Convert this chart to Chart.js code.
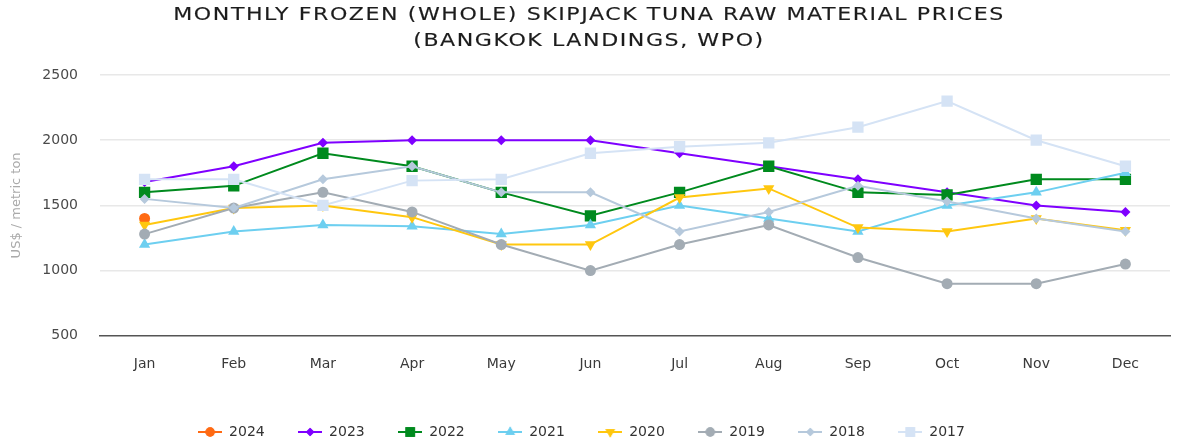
<!DOCTYPE html>
<html>
<head>
<meta charset="utf-8">
<script src="https://cdn.jsdelivr.net/npm/chart.js@4.4.1/dist/chart.umd.min.js"></script>
<style>
  html, body { margin: 0; padding: 0; background: #fff; }
  #wrap { width: 1178px; height: 444px; position: relative; }
  #titulo {
    position: absolute; left: 0; top: 1px; width: 1178px;
    text-align: center; font-family: 'DejaVu Sans', sans-serif;
    font-size: 17px; line-height: 26px; color: #1c1c1c;
    letter-spacing: 1.2px; -webkit-text-stroke: 0.15px #1c1c1c;
    transform: scaleX(1.3); transform-origin: 589px 0;
    pointer-events: none;
  }
</style>
</head>
<body>
<div id="wrap">
  <canvas id="graficoAtum"></canvas>
  <div id="titulo">MONTHLY FROZEN (WHOLE) SKIPJACK TUNA RAW MATERIAL PRICES<br>(BANGKOK LANDINGS, WPO)</div>
</div>
<script>
// dados (US$ / tonelada)
var meses = ['Jan', 'Feb', 'Mar', 'Apr', 'May', 'Jun', 'Jul', 'Aug', 'Sep', 'Oct', 'Nov', 'Dec'];
var anos = ['2024', '2023', '2022', '2021', '2020', '2019', '2018', '2017'];
var ticksY = [500, 1000, 1500, 2000, 2500];

var v2024 = [1400, null, null, null, null, null, null, null, null, null, null, null];
var v2023 = [1680, 1800, 1980, 2000, 2000, 2000, 1900, 1800, 1700, 1600, 1500, 1450];
var v2022 = [1600, 1650, 1900, 1800, 1600, 1420, 1600, 1800, 1600, 1580, 1700, 1700];
var v2021 = [1200, 1300, 1350, 1340, 1280, 1350, 1500, 1400, 1300, 1500, 1600, 1750];
var v2020 = [1350, 1480, 1500, 1410, 1200, 1200, 1560, 1630, 1330, 1300, 1400, 1310];
var v2019 = [1280, 1480, 1600, 1450, 1200, 1000, 1200, 1350, 1100, 900, 900, 1050];
var v2018 = [1550, 1480, 1700, 1800, 1600, 1600, 1300, 1450, 1650, 1530, 1400, 1300];
var v2017 = [1700, 1700, 1500, 1690, 1700, 1900, 1950, 1980, 2100, 2300, 2000, 1800];

var valores = [v2024, v2023, v2022, v2021, v2020, v2019, v2018, v2017];
var cores = ['#ff6a13', '#7f00ff', '#008a1e', '#6dcff0', '#ffc70f', '#a3acb4', '#b6c9dc', '#d5e3f5'];
var estilos = ['circle', 'rectRot', 'rect', 'triangle', 'triangle', 'circle', 'rectRot', 'rect'];
var rotacoes = [0, 0, 0, 0, 180, 0, 0, 0];
var raios = [5.5, 5, 8, 6.5, 6.5, 5.5, 5, 8];

// ícone da legenda: linha curta com o marcador
function criarIcone(i) {
    var c = document.createElement('canvas');
    c.width = 24; c.height = 14;
    var g = c.getContext('2d');
    g.strokeStyle = cores[i];
    g.lineWidth = 2;
    g.beginPath(); g.moveTo(0, 7); g.lineTo(24, 7); g.stroke();
    g.fillStyle = cores[i];
    Chart.helpers.drawPoint(g, {
        pointStyle: estilos[i], radius: raios[i] * 0.85, rotation: rotacoes[i], borderWidth: 0
    }, 12, 7);
    g.fill();
    return c;
}

var datasets = anos.map(function (ano, i) {
    return {
        label: ano,
        data: valores[i],
        borderColor: cores[i],
        backgroundColor: cores[i],
        borderWidth: 2,
        pointStyle: estilos[i],
        pointRotation: rotacoes[i],
        pointRadius: raios[i],
        pointHoverRadius: raios[i],
        pointBorderWidth: 0,
        tension: 0,
        order: anos.length - i
    };
});

// empurra a legenda um pouco para a esquerda
var ajusteLegenda = {
    id: 'ajusteLegenda',
    afterLayout: function (chart) {
        if (chart.legend) {
            chart.legend.left -= 6;
            chart.legend.right -= 6;
        }
    }
};

var ctx = document.getElementById('graficoAtum').getContext('2d');
var graficoAtum = new Chart(ctx, {
    type: 'line',
    data: { labels: meses, datasets: datasets },
    plugins: [ajusteLegenda],
    options: {
        responsive: true,
        maintainAspectRatio: false,
        animation: false,
        layout: { padding: { left: 0, right: 3, top: 75, bottom: -5 } },
        plugins: {
            title: { display: false },
            legend: {
                position: 'bottom',
                labels: {
                    color: '#333',
                    font: { family: 'DejaVu Sans', size: 14 },
                    usePointStyle: true,
                    pointStyleWidth: 24,
                    padding: 33.4,
                    generateLabels: function (chart) {
                        return anos.map(function (ano, i) {
                            return {
                                text: ano,
                                fillStyle: cores[i],
                                strokeStyle: cores[i],
                                lineWidth: 0,
                                pointStyle: criarIcone(i),
                                hidden: false,
                                datasetIndex: i,
                                fontColor: '#333'
                            };
                        });
                    }
                }
            },
            tooltip: { enabled: false }
        },
        scales: {
            x: {
                offset: true,
                grid: { display: false, drawTicks: false },
                border: { display: true, color: '#555', width: 1.5 },
                ticks: {
                    color: '#3a3a3a',
                    font: { family: 'DejaVu Sans', size: 14 },
                    padding: 20
                },
                afterFit: function (scale) { scale.height -= 1; }
            },
            y: {
                min: ticksY[0],
                max: ticksY[ticksY.length - 1],
                afterBuildTicks: function (axis) {
                    axis.ticks = ticksY.map(function (v) { return { value: v }; });
                },
                afterFit: function (scale) { scale.width = 100; },
                grid: {
                    color: function (c) { return c.tick && c.tick.value === 500 ? 'rgba(0,0,0,0)' : '#e8e8e8'; },
                    lineWidth: 1.5,
                    drawTicks: false
                },
                border: { display: false },
                ticks: {
                    color: '#4a4a4a',
                    font: { family: 'DejaVu Sans', size: 14 },
                    padding: 22,
                    callback: function (v) { return String(v); }
                },
                title: {
                    display: true,
                    text: 'US$ / metric ton',
                    color: '#aaa',
                    font: { family: 'DejaVu Sans', size: 13 },
                    padding: { top: 9, bottom: 0 }
                }
            }
        }
    }
});
</script>
</body>
</html>
